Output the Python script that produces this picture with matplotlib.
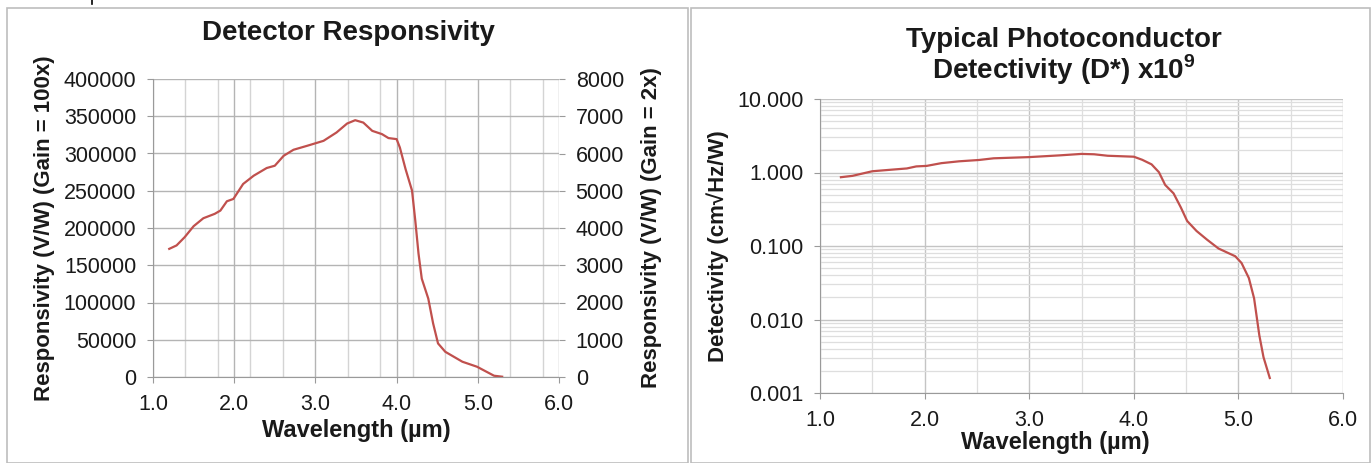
import matplotlib.pyplot as plt
from matplotlib.patches import Rectangle
from matplotlib.lines import Line2D
from matplotlib.ticker import MultipleLocator, LogLocator, FixedLocator, NullFormatter, FuncFormatter

# Detector responsivity (gain = 100x)
resp_wavelength = [1.20, 1.29, 1.39, 1.50, 1.62, 1.76, 1.83, 1.91, 1.99, 2.11,
                   2.24, 2.40, 2.50, 2.61, 2.73, 2.90, 3.10, 3.26, 3.39, 3.49,
                   3.59, 3.70, 3.82, 3.90, 4.00, 4.04, 4.11, 4.19, 4.23, 4.27,
                   4.31, 4.39, 4.45, 4.51, 4.60, 4.81, 4.99, 5.20, 5.30]
responsivity = [172000, 176600, 187700, 202400, 213100, 219000, 223400, 235900, 239000, 259100,
                270200, 280500, 283600, 297000, 305000, 310400, 317000, 328200, 340200, 344700,
                341500, 330400, 326000, 320700, 319300, 308100, 279200, 250200, 210000, 165500,
                132000, 105300, 71800, 45100, 33800, 20500, 13800, 1700, 400]

# Typical photoconductor detectivity (x1e9)
det_wavelength = [1.20, 1.31, 1.50, 1.71, 1.83, 1.92, 2.02, 2.16, 2.33, 2.52,
                  2.66, 3.00, 3.29, 3.50, 3.62, 3.75, 4.00, 4.08, 4.17, 4.24,
                  4.30, 4.38, 4.45, 4.51, 4.60, 4.70, 4.81, 4.97, 5.03, 5.10,
                  5.15, 5.20, 5.24, 5.30]
detectivity = [0.863, 0.90, 1.04, 1.10, 1.135, 1.21, 1.23, 1.34, 1.42, 1.48,
               1.56, 1.62, 1.71, 1.79, 1.77, 1.69, 1.64, 1.49, 1.29, 1.01,
               0.677, 0.52, 0.334, 0.219, 0.16, 0.122, 0.0924, 0.0725, 0.0587, 0.0366,
               0.0194, 0.0061, 0.00307, 0.0016]

LINE = '#c0504d'
TXT = '#1a1a1a'
W, H = 1372, 463

plt.rcParams['font.family'] = ['Liberation Sans', 'DejaVu Sans']
plt.rcParams['mathtext.fontset'] = 'custom'
plt.rcParams['mathtext.rm'] = 'Liberation Sans'
plt.rcParams['mathtext.bf'] = 'Liberation Sans:bold'


def style_axes(ax):
    for side in ['top', 'right']:
        ax.spines[side].set_visible(False)
    for side in ['left', 'bottom']:
        ax.spines[side].set_color('#9a9a9a')
    ax.tick_params(which='major', length=4, color='#9a9a9a', labelsize=15.5,
                   labelcolor=TXT, pad=8)
    ax.tick_params(which='minor', length=0)
    ax.set_axisbelow(True)


def main():
    fig = plt.figure(figsize=(W / 100, H / 100), dpi=100)

    # panel frames
    fig.patches.append(Rectangle((7 / W, 0), 681 / W, 455 / H, transform=fig.transFigure,
                                 fill=False, edgecolor='#bdbdbd', linewidth=1.2))
    fig.patches.append(Rectangle((691 / W, 0), 679 / W, 455 / H, transform=fig.transFigure,
                                 fill=False, edgecolor='#bdbdbd', linewidth=1.2))
    fig.lines.append(Line2D([92 / W, 92 / W], [1.0, (H - 4) / H], transform=fig.transFigure,
                            color='black', linewidth=1.2))

    # ---- left chart ----
    ax1 = fig.add_axes([153 / W, 86 / H, 406 / W, 298 / H])
    style_axes(ax1)
    ax1.plot(resp_wavelength, responsivity, color=LINE, linewidth=1.6)
    ax1.set_xlim(1.0, 6.0)
    ax1.set_ylim(0, 400000)
    ax1.xaxis.set_major_locator(MultipleLocator(1.0))
    ax1.xaxis.set_minor_locator(FixedLocator([1.4, 1.8, 2.2, 2.6, 3.4, 3.8, 4.2, 4.6, 5.4, 5.8]))
    ax1.xaxis.set_major_formatter(FuncFormatter(lambda v, p: f'{v:.1f}'))
    ax1.yaxis.set_major_locator(MultipleLocator(50000))
    ax1.grid(which='major', color='#b4b4b4', linewidth=1.0)
    ax1.grid(which='minor', axis='x', color='#d4d4d4', linewidth=1.0)
    ax1.set_xlabel('Wavelength (µm)', fontsize=17, fontweight='bold', color=TXT, va='center')
    ax1.xaxis.set_label_coords(0.5, -0.178)
    ax1.set_ylabel('Responsivity (V/W) (Gain = 100x)', fontsize=16, fontweight='bold', color=TXT)
    ax1.yaxis.label.set_va('center')
    ax1.yaxis.set_label_coords(-0.268, 0.5)
    fig.text(348 / W, 1 - 33 / H, 'Detector Responsivity', fontsize=20, fontweight='bold',
             color=TXT, ha='center', va='center')

    ax2 = ax1.twinx()
    for side in ['top', 'left', 'bottom', 'right']:
        ax2.spines[side].set_visible(False)
    ax2.set_ylim(0, 8000)
    ax2.yaxis.set_major_locator(MultipleLocator(1000))
    ax2.tick_params(length=4, color='#9a9a9a', labelsize=15.5, labelcolor=TXT, pad=8)
    ax2.set_ylabel('Responsivity (V/W) (Gain = 2x)', fontsize=16, fontweight='bold', color=TXT)
    ax2.yaxis.label.set_va('center')
    ax2.yaxis.set_label_coords(1.227, 0.5)

    # ---- right chart ----
    ax3 = fig.add_axes([820 / W, 70 / H, 523 / W, 294 / H])
    style_axes(ax3)
    ax3.semilogy(det_wavelength, detectivity, color=LINE, linewidth=1.6)
    ax3.set_xlim(1.0, 6.0)
    ax3.set_ylim(0.001, 10)
    ax3.xaxis.set_major_locator(MultipleLocator(1.0))
    ax3.xaxis.set_minor_locator(MultipleLocator(0.5))
    ax3.xaxis.set_major_formatter(FuncFormatter(lambda v, p: f'{v:.1f}'))
    ax3.yaxis.set_major_locator(LogLocator(base=10, numticks=10))
    ax3.yaxis.set_minor_locator(LogLocator(base=10, subs=range(2, 10), numticks=10))
    ax3.yaxis.set_major_formatter(FuncFormatter(lambda v, p: f'{v:.3f}'))
    ax3.yaxis.set_minor_formatter(NullFormatter())
    ax3.grid(which='major', color='#c4c4c4', linewidth=1.0)
    ax3.grid(which='minor', color='#dedede', linewidth=0.9)
    ax3.set_xlabel('Wavelength (µm)', fontsize=17, fontweight='bold', color=TXT, va='center')
    ax3.xaxis.set_label_coords(0.45, -0.17)
    ax3.set_ylabel('Detectivity (cm√Hz/W)', fontsize=16, fontweight='bold', color=TXT)
    ax3.yaxis.label.set_va('center')
    ax3.yaxis.set_label_coords(-0.195, 0.5)
    fig.text(1064 / W, 1 - 40 / H, 'Typical Photoconductor', fontsize=20, fontweight='bold',
             color=TXT, ha='center', va='center')
    fig.text(1064 / W, 1 - 70 / H, 'Detectivity (D*) x10$^{\\mathbf{9}}$', fontsize=20,
             fontweight='bold', color=TXT, ha='center', va='center')

    fig.savefig('out.png', dpi=100)


if __name__ == "__main__":
    main()
